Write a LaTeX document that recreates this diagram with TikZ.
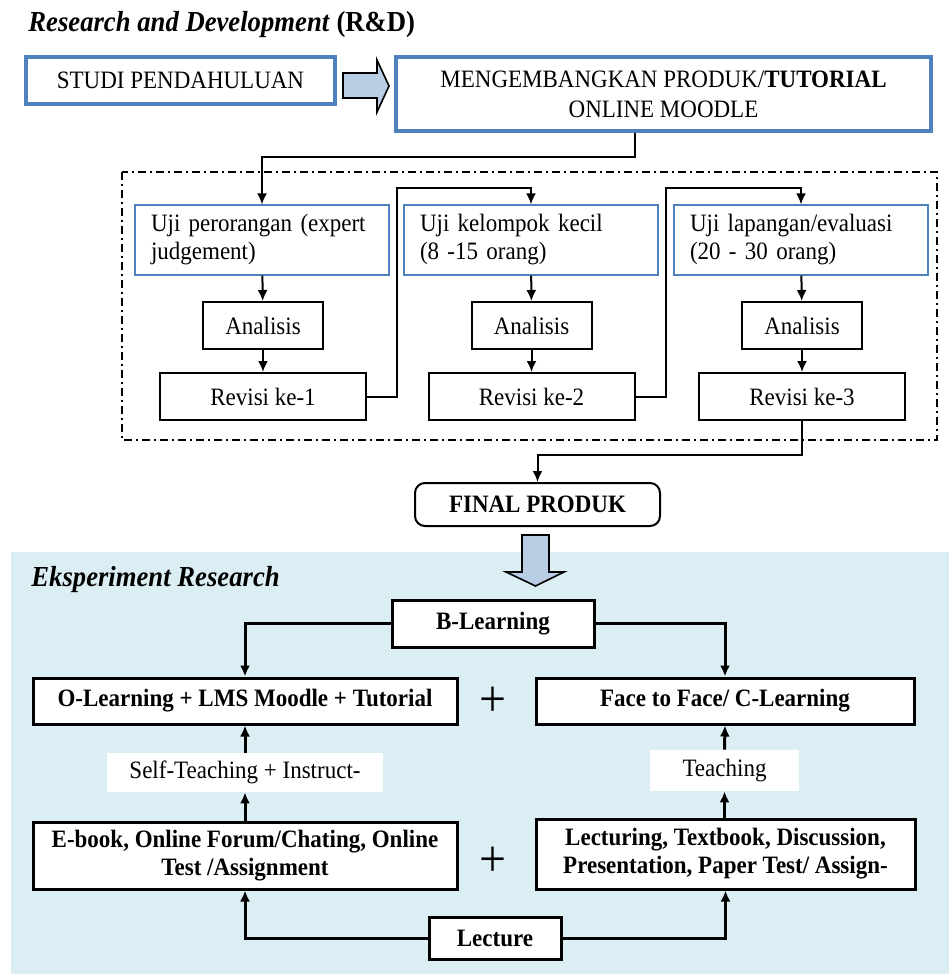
\documentclass[tikz,border=0pt]{standalone}
\usepackage{fontspec}
\setmainfont{Liberation Serif}[FakeStretch=0.92]
\definecolor{BoxBlue}{RGB}{79,129,189}
\definecolor{ArrowFill}{RGB}{185,205,229}
\definecolor{PanelFill}{RGB}{219,238,244}
\usetikzlibrary{arrows.meta}
\newcommand{\diagfont}{\fontsize{12.5}{14}\selectfont}
\newcommand{\headfont}{\fontsize{14.5}{17}\selectfont}
\tikzset{
  % Thick blue box (top row)
  bluebox/.style={
    draw=BoxBlue,
    line width=2pt,
    fill=white,
    align=center,
    inner sep=0pt,
    font=\diagfont
  },
  % Thin blue box for the three tests
  testbox/.style={
    draw=BoxBlue,
    line width=0.6pt,
    align=left,
    inner xsep=8pt,
    text width=111pt,
    minimum height=35pt,
    font=\diagfont
  },
  % Plain black box
  plainbox/.style={
    draw=black,
    line width=1pt,
    align=center,
    inner sep=0pt,
    minimum height=23.5pt,
    font=\diagfont
  },
  anabox/.style={plainbox, minimum width=60pt},
  revbox/.style={plainbox, minimum width=103pt},
  % Bold boxes in the experiment part
  boldbox/.style={
    draw=black,
    line width=1.5pt,
    fill=white,
    align=center,
    inner sep=0pt,
    font=\diagfont\bfseries
  },
  % White label without border
  tag/.style={
    fill=white,
    inner sep=0pt,
    font=\diagfont
  },
  % Large plus sign
  plus/.style={
    font=\fontsize{26}{26}\selectfont,
    inner sep=0pt
  },
  % Connectors
  arr/.style={
    draw=black,
    line width=1pt,
    -{Latex[length=5.5pt,width=5pt]}
  },
  barr/.style={
    arr,
    line width=1.5pt
  },
  % Block arrows
  blockarrow/.style={
    draw=black,
    line width=0.8pt,
    fill=ArrowFill,
    line join=miter
  },
  % Dash-dot frame round the tests
  frame/.style={
    draw=black,
    line width=0.6pt,
    dash pattern=on 4pt off 2pt on 1pt off 2pt
  }
}

\begin{document}
\begin{tikzpicture}[x=0.5pt, y=-0.5pt]
  \useasboundingbox (0,0) rectangle (949,974);
  % panel behind the experiment part
  \fill[PanelFill] (11,552) rectangle (949,974);

  % Research and Development
  \node[anchor=west, inner sep=0pt, font=\headfont] (rdtitle) at (28,25)
    {\textbf{\textit{Research and Development}} \textbf{(R\&D)}};
  \node[bluebox, minimum width=154.5pt, minimum height=23.5pt] (studi) at (180.5,80.5) {STUDI PENDAHULUAN};
  \node[bluebox, minimum width=267.5pt, minimum height=37pt] (mengembangkan) at (663.5,94)
    {MENGEMBANGKAN PRODUK/\textbf{TUTORIAL}\\[1pt]ONLINE MOODLE};
  \draw[blockarrow] (343,73) -- (377,73) -- (377,60) -- (389,86) -- (377,112) -- (377,98) -- (343,98) -- cycle;

  \draw[frame] (122,172) rectangle (937,440);

  \node[testbox] (uji1) at (262,240) {Uji perorangan (expert\\judgement)};
  \node[testbox] (uji2) at (531,240) {Uji kelompok kecil\\(8 -15 orang)};
  \node[testbox] (uji3) at (801,240) {Uji lapangan/evaluasi\\(20 - 30 orang)};

  \node[anabox] (ana1) at (263,325.5) {Analisis};
  \node[anabox] (ana2) at (531.5,325.5) {Analisis};
  \node[anabox] (ana3) at (802,325.5) {Analisis};

  \node[revbox] (rev1) at (263,396.5) {Revisi ke-1};
  \node[revbox] (rev2) at (531.5,396.5) {Revisi ke-2};
  \node[revbox] (rev3) at (802,396.5) {Revisi ke-3};

  \node[plainbox, rounded corners=5pt, minimum width=122.5pt, minimum height=21.5pt, font=\diagfont\bfseries] (final) at (537.5,504.5) {FINAL PRODUK};

  \draw[arr] ([xshift=-14.25pt]mengembangkan.south) -- ++(0,24) -| (uji1.north);
  \foreach \i in {1,2,3} {
    \draw[arr] (uji\i) -- (ana\i);
    \draw[arr] (ana\i) -- (rev\i);
  }
  \draw[arr] (rev1.east) -- ++(30,0) |- ([yshift=8pt]uji2.north) -- (uji2.north);
  \draw[arr] (rev2.east) -- ++(30,0) |- ([yshift=8pt]uji3.north) -- (uji3.north);
  \draw[arr] (rev3.south) -- ++(0,34) -| (final.north);

  \draw[blockarrow] (522,535) -- (549,535) -- (549,572) -- (564,572) -- (535.5,586) -- (506,572) -- (522,572) -- cycle;

  % Eksperiment Research
  \node[anchor=west, inner sep=0pt, font=\headfont] (extitle) at (31,580) {\textbf{\textit{Eksperiment Research}}};
  \node[boldbox, minimum width=101pt, minimum height=23.5pt] (blearning) at (493,623.5) {B-Learning};
  \node[boldbox, minimum width=212pt, minimum height=23pt] (olearning) at (245,701) {O-Learning + LMS Moodle + Tutorial};
  \node[boldbox, minimum width=189pt, minimum height=23pt] (facetoface) at (725,701) {Face to Face/ C-Learning};
  \node[plus] (plus1) at (493,702) {+};

  \node[tag, minimum width=138pt, minimum height=19.5pt] (selfteach) at (245,772.5) {Self-Teaching + Instruct-};
  \node[tag, minimum width=74.5pt, minimum height=20.5pt] (teaching) at (724.5,770.5) {Teaching};

  \node[boldbox, minimum width=212pt, minimum height=33.5pt] (ebook) at (245,855.5)
    {E-book, Online Forum/Chating, Online\\Test /Assignment};
  \node[boldbox, minimum width=189.5pt, minimum height=35pt] (lecturing) at (725.5,854)
    {Lecturing, Textbook, Discussion,\\Presentation, Paper Test/ Assign-};
  \node[plus] (plus2) at (493,862) {+};
  \node[boldbox, minimum width=66pt, minimum height=21pt] (lecture) at (495,938) {Lecture};

  \draw[barr] (blearning.west) -| (olearning.north);
  \draw[barr] (blearning.east) -| (facetoface.north);
  \draw[barr] (ebook.north) -- (selfteach.south);
  \draw[barr] (selfteach.north) -- (olearning.south);
  \draw[barr] (lecturing.north -| teaching.south) -- (teaching.south);
  \draw[barr] (teaching.north) -- (facetoface.north |- facetoface.south);
  \draw[barr] (lecture.west) -| (ebook.south);
  \draw[barr] (lecture.east) -| (lecturing.south);
\end{tikzpicture}
\end{document}
